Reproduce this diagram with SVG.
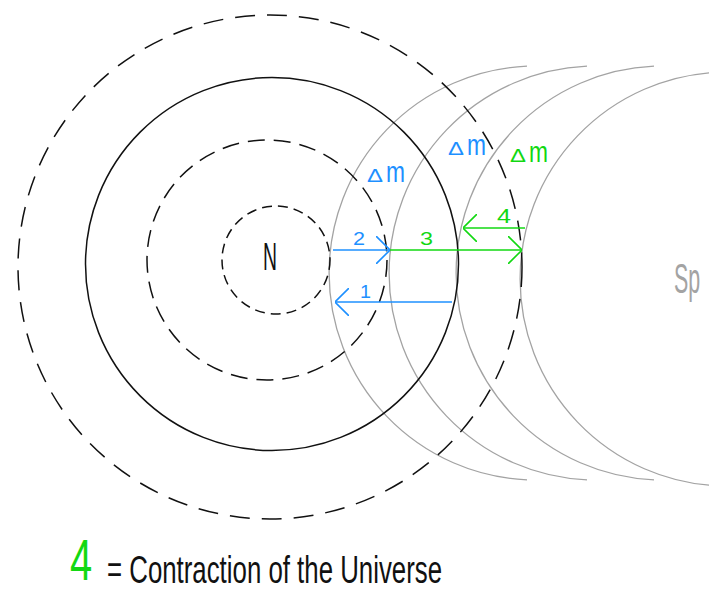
<svg xmlns="http://www.w3.org/2000/svg" width="709" height="592" viewBox="0 0 709 592">
<style>
  .blk{fill:none;stroke:#111;stroke-width:1.5}
  .gry{fill:none;stroke:#a3a3a3;stroke-width:1.3}
  .blue{stroke:#1e90ff;stroke-width:1.6;fill:none}
  .green{stroke:#12d812;stroke-width:1.6;fill:none}
  .t{font-family:"Liberation Sans",Arial,sans-serif}
  .tb{fill:#1e90ff}
  .tg{fill:#12d812}
  .tk{fill:#111}
</style>
<defs>
  <marker id="hb" viewBox="0 0 14 28" refX="14" refY="14" markerWidth="14" markerHeight="28" markerUnits="userSpaceOnUse" orient="auto">
    <path d="M0,0 L14,14 L0,28" fill="none" stroke="#1e90ff" stroke-width="1.6"/>
  </marker>
  <marker id="hg" viewBox="0 0 14 28" refX="14" refY="14" markerWidth="14" markerHeight="28" markerUnits="userSpaceOnUse" orient="auto">
    <path d="M0,0 L14,14 L0,28" fill="none" stroke="#12d812" stroke-width="1.6"/>
  </marker>
</defs>
<rect width="709" height="592" fill="#fff"/>

<g id="gray-arcs">
  <path class="gry" d="M527,66.2 A207,207 0 0 0 527,479.8"/>
  <path class="gry" d="M587,66.2 A207,207 0 0 0 587,479.8"/>
  <path class="gry" d="M654,66.2 A207,207 0 0 0 654,479.8"/>
  <path class="gry" d="M718,72.2 A207,207 0 0 0 718,485.8"/>
</g>

<g id="circles">
  <circle id="outer-dashed" class="blk" cx="270" cy="267" r="252" stroke-dasharray="20 12"/>
  <circle id="solid" class="blk" cx="272" cy="264" r="186.5"/>
  <circle id="middle-dashed" class="blk" cx="267" cy="260" r="120" stroke-dasharray="17 9"/>
  <circle id="inner-dashed" class="blk" cx="276" cy="260" r="54" stroke-dasharray="10 6"/>
</g>

<g id="connectors">
  <line id="arrow2" class="blue" x1="333" y1="250" x2="390" y2="250" marker-end="url(#hb)"/>
  <line id="arrow3" class="green" x1="390" y1="250" x2="522" y2="250" marker-end="url(#hg)"/>
  <line id="arrow4" class="green" x1="525" y1="228" x2="463" y2="228" marker-end="url(#hg)"/>
  <line id="arrow1" class="blue" x1="452" y1="302" x2="335" y2="302" marker-end="url(#hb)"/>
</g>

<g id="node-N">
  <text class="t tk" x="263" y="270" font-size="38" textLength="14" lengthAdjust="spacingAndGlyphs">N</text>
</g>
<g id="node-Sp">
  <text class="t" fill="#a3a3a3" font-size="42" transform="translate(674,293) scale(0.51,1)">Sp</text>
</g>

<g id="labels">
  <text class="t tb" x="353" y="245" font-size="19" textLength="12" lengthAdjust="spacingAndGlyphs">2</text>
  <text class="t tg" x="420" y="245" font-size="19" textLength="13" lengthAdjust="spacingAndGlyphs">3</text>
  <text class="t tg" x="497" y="223" font-size="20" textLength="14" lengthAdjust="spacingAndGlyphs">4</text>
  <text class="t tb" x="360" y="298" font-size="19" textLength="11" lengthAdjust="spacingAndGlyphs">1</text>
</g>

<g id="dm1">
  <text class="t tb" x="367" y="182" font-size="19" textLength="16" lengthAdjust="spacingAndGlyphs">Δ</text>
  <text class="t tb" x="386" y="182" font-size="29" textLength="19" lengthAdjust="spacingAndGlyphs">m</text>
</g>
<g id="dm2">
  <text class="t tb" x="448" y="155" font-size="19" textLength="16" lengthAdjust="spacingAndGlyphs">Δ</text>
  <text class="t tb" x="467" y="155" font-size="29" textLength="19" lengthAdjust="spacingAndGlyphs">m</text>
</g>
<g id="dm3">
  <text class="t tg" x="510" y="162" font-size="19" textLength="16" lengthAdjust="spacingAndGlyphs">Δ</text>
  <text class="t tg" x="529" y="162" font-size="29" textLength="19" lengthAdjust="spacingAndGlyphs">m</text>
</g>

<g id="legend">
  <text class="t tg" font-size="57" transform="translate(70,580) scale(0.7,1)">4</text>
  <text class="t tk" x="107" y="583" font-size="39" textLength="335" lengthAdjust="spacingAndGlyphs">= Contraction of the Universe</text>
</g>
</svg>
